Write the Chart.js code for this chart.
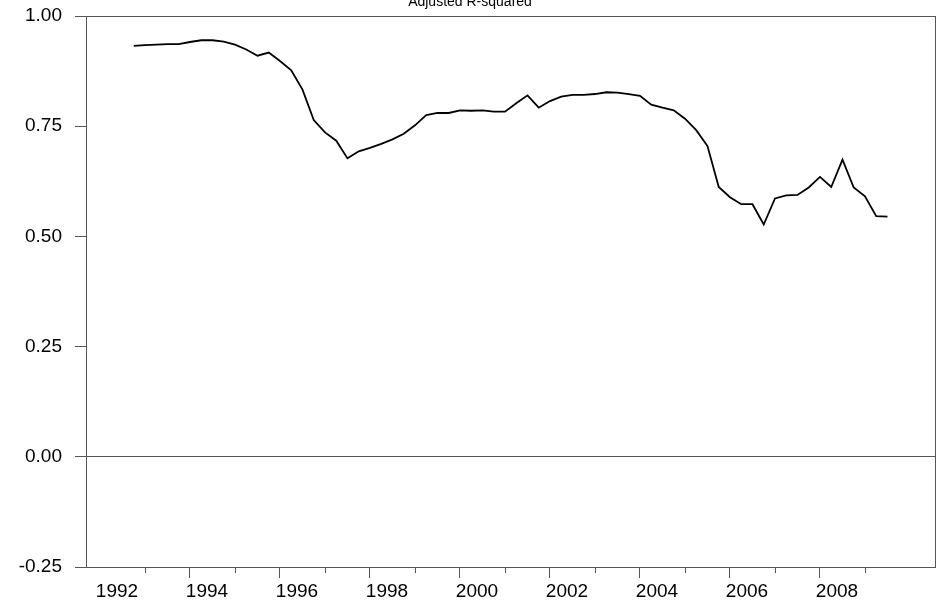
<!DOCTYPE html>
<html>
<head>
<meta charset="utf-8">
<title>Adjusted R-squared</title>
<script src="https://cdn.jsdelivr.net/npm/chart.js@4/dist/chart.umd.min.js"></script>
<style>
  html, body { margin: 0; padding: 0; background: #ffffff; }
  #wrap { width: 936px; height: 604px; position: relative; }
</style>
</head>
<body>
<div id="wrap"><canvas id="c" width="936" height="604"></canvas></div>
<script>
// Quarterly periods of the rolling regression
const periods = [
  "1992Q4",
  "1993Q1","1993Q2","1993Q3","1993Q4",
  "1994Q1","1994Q2","1994Q3","1994Q4",
  "1995Q1","1995Q2","1995Q3","1995Q4",
  "1996Q1","1996Q2","1996Q3","1996Q4",
  "1997Q1","1997Q2","1997Q3","1997Q4",
  "1998Q1","1998Q2","1998Q3","1998Q4",
  "1999Q1","1999Q2","1999Q3","1999Q4",
  "2000Q1","2000Q2","2000Q3","2000Q4",
  "2001Q1","2001Q2","2001Q3","2001Q4",
  "2002Q1","2002Q2","2002Q3","2002Q4",
  "2003Q1","2003Q2","2003Q3","2003Q4",
  "2004Q1","2004Q2","2004Q3","2004Q4",
  "2005Q1","2005Q2","2005Q3","2005Q4",
  "2006Q1","2006Q2","2006Q3","2006Q4",
  "2007Q1","2007Q2","2007Q3","2007Q4",
  "2008Q1","2008Q2","2008Q3","2008Q4",
  "2009Q1","2009Q2","2009Q3"
];

// Adjusted R-squared for each period
const adjRSquared = [
  0.932,
  0.934, 0.935, 0.936, 0.936,
  0.941, 0.945, 0.945, 0.942,
  0.935, 0.924, 0.910, 0.917,
  0.898, 0.877, 0.833, 0.764,
  0.736, 0.717, 0.677, 0.693,
  0.701, 0.710, 0.720, 0.733,
  0.752, 0.775, 0.780, 0.780,
  0.786, 0.785, 0.786, 0.783,
  0.783, 0.802, 0.820, 0.792,
  0.807, 0.817, 0.821, 0.821,
  0.823, 0.827, 0.826, 0.823,
  0.819, 0.799, 0.792, 0.786,
  0.767, 0.741, 0.705, 0.612,
  0.589, 0.573, 0.573, 0.527,
  0.586, 0.593, 0.594, 0.611,
  0.635, 0.612, 0.674, 0.611,
  0.591, 0.546, 0.545
];

// Axis ticks
const yTickValues = [-0.25, 0.00, 0.25, 0.50, 0.75, 1.00];
const yearTicks = [1992, 1993, 1994, 1995, 1996, 1997, 1998, 1999, 2000,
                   2001, 2002, 2003, 2004, 2005, 2006, 2007, 2008, 2009];
const labelledYears = [1992, 1994, 1996, 1998, 2000, 2002, 2004, 2006, 2008];
const majorTickYears = [1994, 1996, 1998, 2000, 2002, 2004, 2006, 2008];
const minorTickYears = [1993, 1995, 1997, 1999, 2001, 2003, 2005, 2007, 2009];

const chartTitle = "Adjusted R-squared";

// period "YYYYQn" -> decimal year at the start of the quarter
function periodToYear(p) {
  const y = parseInt(p.slice(0, 4), 10);
  const q = parseInt(p.slice(5), 10);
  return y + (q - 1) / 4;
}

const AXIS_COLOR = '#555555';
const FONT_FAMILY = "'Liberation Sans', Arial, Helvetica, sans-serif";
const CLEAR = 'rgba(0,0,0,0)';

// Title, top/right frame and short minor ticks on the date axis
const framePlugin = {
  id: 'frame',
  afterDraw(chart) {
    const { ctx, chartArea: a, scales } = chart;
    ctx.save();
    ctx.strokeStyle = AXIS_COLOR;
    ctx.lineWidth = 1;
    ctx.beginPath();
    ctx.moveTo(a.left, Math.round(a.top) + 0.5);
    ctx.lineTo(a.right + 1, Math.round(a.top) + 0.5);
    ctx.moveTo(Math.round(a.right) + 0.5, a.top);
    ctx.lineTo(Math.round(a.right) + 0.5, a.bottom + 1);
    const yb = Math.round(a.bottom);
    minorTickYears.forEach(yr => {
      const px = Math.round(scales.x.getPixelForValue(yr)) + 0.5;
      ctx.moveTo(px, yb);
      ctx.lineTo(px, yb + 6);
    });
    ctx.stroke();

    ctx.fillStyle = '#000';
    ctx.font = '14px ' + FONT_FAMILY;
    ctx.textAlign = 'center';
    ctx.textBaseline = 'alphabetic';
    ctx.fillText(chartTitle, chart.width / 2 + 2, 6);
    ctx.restore();
  }
};

const tickFont = { family: FONT_FAMILY, size: 19 };

new Chart(document.getElementById('c'), {
  type: 'line',
  data: {
    datasets: [{
      label: chartTitle,
      data: periods.map((p, i) => ({ x: periodToYear(p), y: adjRSquared[i] })),
      borderColor: '#000000',
      borderWidth: 1.8,
      pointRadius: 0,
      tension: 0,
      fill: false
    }]
  },
  options: {
    responsive: false,
    animation: false,
    events: [],
    layout: { padding: { top: 16, right: 1, left: 0, bottom: 0 } },
    plugins: {
      legend: { display: false },
      tooltip: { enabled: false },
      title: { display: false }
    },
    scales: {
      x: {
        type: 'linear',
        min: 1991.689,
        max: 2010.556,
        afterBuildTicks: s => { s.ticks = yearTicks.map(v => ({ value: v })); },
        afterFit: s => { s.height = 37; s.paddingLeft = 0; s.paddingRight = 0; },
        border: { display: true, color: AXIS_COLOR, width: 1 },
        grid: {
          drawOnChartArea: false,
          drawTicks: true,
          tickLength: 11,
          tickWidth: 1,
          tickColor: ctx => (ctx.tick && majorTickYears.includes(ctx.tick.value)) ? AXIS_COLOR : CLEAR
        },
        ticks: {
          autoSkip: false,
          maxRotation: 0,
          minRotation: 0,
          padding: 2,
          labelOffset: 17,
          color: '#000000',
          font: tickFont,
          callback: v => labelledYears.includes(v) ? String(v) : ''
        }
      },
      y: {
        min: -0.25,
        max: 1.0,
        afterBuildTicks: s => { s.ticks = yTickValues.map(v => ({ value: v })); },
        afterFit: s => { s.width = 86; s.paddingTop = 0; s.paddingBottom = 0; },
        border: { display: true, color: AXIS_COLOR, width: 1 },
        grid: {
          drawOnChartArea: true,
          drawTicks: true,
          tickLength: 11,
          tickWidth: 1,
          tickColor: AXIS_COLOR,
          color: ctx => (ctx.tick && ctx.tick.value === 0) ? AXIS_COLOR : CLEAR
        },
        ticks: {
          padding: 13,
          color: '#000000',
          font: tickFont,
          callback: v => v.toFixed(2)
        }
      }
    }
  },
  plugins: [framePlugin]
});
</script>
</body>
</html>
